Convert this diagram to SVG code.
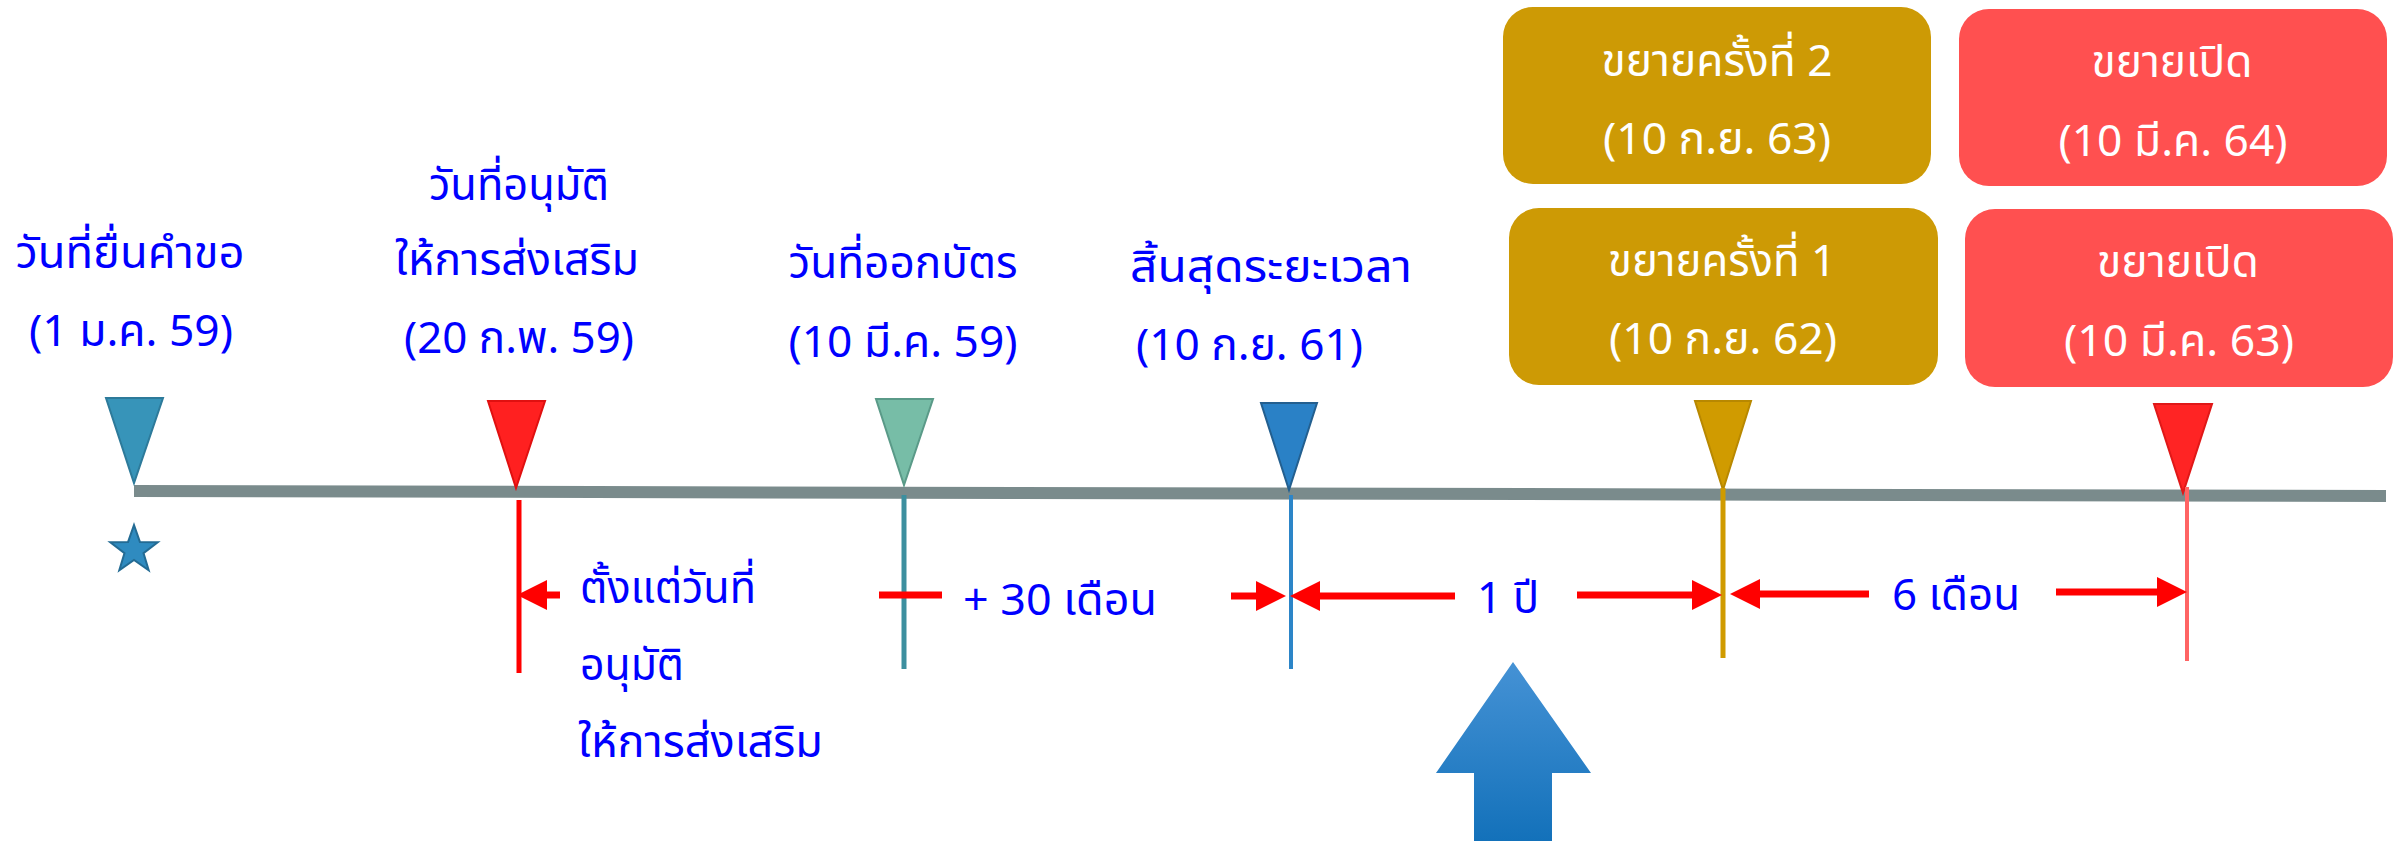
<svg xmlns="http://www.w3.org/2000/svg" width="2402" height="841" viewBox="0 0 2402 841">
<style>
.t{font-family:"Noto Sans Thai","Noto Sans","Liberation Sans",sans-serif;font-size:44px;fill:#0000ff}
.c{text-anchor:middle}
.w{font-family:"Noto Sans Thai","Noto Sans","Liberation Sans",sans-serif;font-size:44px;fill:#ffffff;text-anchor:middle}
.ar{stroke:#ff0000;stroke-width:7;fill:none}
</style>
<defs>
<marker id="ah" markerUnits="userSpaceOnUse" markerWidth="30" markerHeight="30" viewBox="0 0 30 30" refX="0" refY="15" orient="auto">
<path d="M0,0 L30,15 L0,30 z" fill="#ff0000"/>
</marker>
<linearGradient id="bg" x1="0" y1="0" x2="0" y2="1">
<stop offset="0" stop-color="#4592d5"/>
<stop offset="1" stop-color="#1371ba"/>
</linearGradient>
</defs>
<rect width="2402" height="841" fill="#ffffff"/>

<g id="timeline">
<line x1="134" y1="491" x2="2386" y2="496" stroke="#7a8b8c" stroke-width="12"/>
</g>

<g id="n1">
<polygon points="106,398 163,398 134,483" fill="#3794b9" stroke="#2d7a9a" stroke-width="2"/>
<polygon points="134,525 139.9,541.9 157.8,542.3 143.5,553.1 148.7,570.2 134,560 119.3,570.2 124.5,553.1 110.2,542.3 128.1,541.9" fill="#2f8bc0" stroke="#236b94" stroke-width="2"/>
<text class="t c" x="130" y="268" textLength="229" lengthAdjust="spacingAndGlyphs">วันที่ยื่นคำขอ</text>
<text class="t c" x="131" y="346" textLength="204" lengthAdjust="spacingAndGlyphs">(1 ม.ค. 59)</text>
</g>

<g id="n2">
<polygon points="488,401 545,401 516,488" fill="#ff2020" stroke="#e01010" stroke-width="2"/>
<line x1="519" y1="500" x2="519" y2="673" stroke="#ff0000" stroke-width="5"/>
<text class="t c" x="519" y="200" textLength="180" lengthAdjust="spacingAndGlyphs">วันที่อนุมัติ</text>
<text class="t c" x="517" y="275" textLength="244" lengthAdjust="spacingAndGlyphs">ให้การส่งเสริม</text>
<text class="t c" x="519" y="353" textLength="230" lengthAdjust="spacingAndGlyphs">(20 ก.พ. 59)</text>
</g>

<g id="n3">
<polygon points="876,399 933,399 904,485" fill="#77bda7" stroke="#5a9a88" stroke-width="2"/>
<line x1="904" y1="495" x2="904" y2="669" stroke="#3c8f9f" stroke-width="5"/>
<text class="t c" x="903" y="278" textLength="229" lengthAdjust="spacingAndGlyphs">วันที่ออกบัตร</text>
<text class="t c" x="903" y="357" textLength="229" lengthAdjust="spacingAndGlyphs">(10 มี.ค. 59)</text>
</g>

<g id="n4">
<polygon points="1261,403 1317,403 1289,490" fill="#2a81c6" stroke="#235f8f" stroke-width="2"/>
<line x1="1291" y1="495" x2="1291" y2="669" stroke="#2c85c8" stroke-width="4"/>
<text class="t" x="1130" y="282" textLength="282" lengthAdjust="spacingAndGlyphs">สิ้นสุดระยะเวลา</text>
<text class="t" x="1136" y="360" textLength="227" lengthAdjust="spacingAndGlyphs">(10 ก.ย. 61)</text>
</g>

<g id="n5">
<polygon points="1695,401 1751,401 1723,490" fill="#d09b00" stroke="#b88800" stroke-width="2"/>
<line x1="1723" y1="488" x2="1723" y2="658" stroke="#d09b00" stroke-width="5"/>
</g>

<g id="n6">
<polygon points="2154,404 2212,404 2183,493" fill="#ff2424" stroke="#e01818" stroke-width="2"/>
<line x1="2187" y1="487" x2="2187" y2="661" stroke="#ff6464" stroke-width="4"/>
</g>

<g id="box-ext2">
<rect x="1503" y="7" width="428" height="177" rx="30" fill="#cd9a05"/>
<text class="w" x="1717" y="76" textLength="231" lengthAdjust="spacingAndGlyphs">ขยายครั้งที่ 2</text>
<text class="w" x="1717" y="154" textLength="228" lengthAdjust="spacingAndGlyphs">(10 ก.ย. 63)</text>
</g>
<g id="box-ext1">
<rect x="1509" y="208" width="429" height="177" rx="30" fill="#cd9a05"/>
<text class="w" x="1722" y="276" textLength="228" lengthAdjust="spacingAndGlyphs">ขยายครั้งที่ 1</text>
<text class="w" x="1723" y="354" textLength="228" lengthAdjust="spacingAndGlyphs">(10 ก.ย. 62)</text>
</g>
<g id="box-open2">
<rect x="1959" y="9" width="428" height="177" rx="30" fill="#ff5050"/>
<text class="w" x="2172" y="77" textLength="161" lengthAdjust="spacingAndGlyphs">ขยายเปิด</text>
<text class="w" x="2173" y="156" textLength="229" lengthAdjust="spacingAndGlyphs">(10 มี.ค. 64)</text>
</g>
<g id="box-open1">
<rect x="1965" y="209" width="428" height="178" rx="30" fill="#ff5050"/>
<text class="w" x="2178" y="277" textLength="162" lengthAdjust="spacingAndGlyphs">ขยายเปิด</text>
<text class="w" x="2179" y="356" textLength="230" lengthAdjust="spacingAndGlyphs">(10 มี.ค. 63)</text>
</g>

<g id="connectors">
<line class="ar" x1="560" y1="595" x2="547" y2="595" marker-end="url(#ah)"/>
<line class="ar" x1="879" y1="595" x2="942" y2="595"/>
<line class="ar" x1="1231" y1="596" x2="1256" y2="596" marker-end="url(#ah)"/>
<line class="ar" x1="1455" y1="596" x2="1320" y2="596" marker-end="url(#ah)"/>
<line class="ar" x1="1577" y1="595" x2="1692" y2="595" marker-end="url(#ah)"/>
<line class="ar" x1="1869" y1="594" x2="1760" y2="594" marker-end="url(#ah)"/>
<line class="ar" x1="2056" y1="592" x2="2157" y2="592" marker-end="url(#ah)"/>
</g>

<g id="labels">
<text class="t" x="580" y="603" textLength="176" lengthAdjust="spacingAndGlyphs">ตั้งแต่วันที่</text>
<text class="t" x="580" y="680" textLength="104" lengthAdjust="spacingAndGlyphs">อนุมัติ</text>
<text class="t" x="578" y="757" textLength="245" lengthAdjust="spacingAndGlyphs">ให้การส่งเสริม</text>
<text class="t" x="963" y="615" textLength="194" lengthAdjust="spacingAndGlyphs">+ 30 เดือน</text>
<text class="t" x="1477" y="613" textLength="62" lengthAdjust="spacingAndGlyphs">1 ปี</text>
<text class="t" x="1892" y="610" textLength="128" lengthAdjust="spacingAndGlyphs">6 เดือน</text>
</g>

<g id="big-arrow">
<polygon points="1513,662 1591,773 1552,773 1552,841 1474,841 1474,773 1436,773" fill="url(#bg)"/>
</g>
</svg>
